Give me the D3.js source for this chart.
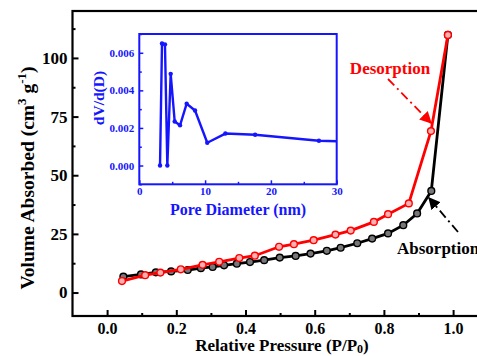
<!DOCTYPE html>
<html><head><meta charset="utf-8">
<script src="https://cdn.jsdelivr.net/npm/d3@7"></script>
<style>body{margin:0;background:#fff}svg{display:block}text{font-family:"Liberation Serif","Times New Roman",serif;font-weight:bold}</style>
</head><body>
<script>
// Main isotherm data
const absX = [0.047,0.098,0.141,0.185,0.233,0.271,0.305,0.338,0.375,0.413,0.454,0.499,0.545,0.588,0.635,0.675,0.723,0.766,0.812,0.856,0.896,0.937,0.985];
const absY = [6.8,7.7,8.6,9.0,9.6,10.4,10.9,11.6,12.3,13.0,13.8,14.9,15.6,16.6,17.8,19.1,21.0,23.0,25.2,28.7,33.7,43.3,109.8];
const desX = [0.043,0.11,0.154,0.213,0.276,0.324,0.382,0.427,0.497,0.54,0.597,0.66,0.704,0.771,0.812,0.872,0.936,0.985];
const desY = [4.9,7.4,8.5,9.9,11.8,13.1,14.7,15.7,19.5,20.6,22.3,24.7,26.4,30.1,33.4,38.0,68.8,109.8];
const xTicks = [0.0,0.2,0.4,0.6,0.8,1.0];
const yTicks = [0,25,50,75,100];
// Inset pore size distribution
const poreX = [3.15,3.45,3.9,4.26,4.77,5.38,6.19,7.2,8.47,10.33,13.08,17.6,27.3,33];
const poreY = [0,0.0065,0.00645,0,0.00488,0.00234,0.00214,0.00329,0.00293,0.00121,0.0017,0.00164,0.00132,0.00126];
const insetXTicks = [0,10,20,30];
const insetYTicks = [0,0.002,0.004,0.006];

const W=477,H=356;
const svg=d3.select("body").append("svg").attr("width",W).attr("height",H);
const x=d3.scaleLinear().domain([-0.1,1.1]).range([72.5,487.7]);
const y=d3.scaleLinear().domain([-10,120]).range([316,11]);

// frame
svg.append("rect").attr("x",x(-0.1)).attr("y",y(120)).attr("width",x(1.1)-x(-0.1)).attr("height",y(-10)-y(120))
  .attr("fill","none").attr("stroke","#000").attr("stroke-width",2.2);

// x axis ticks
const gx=svg.append("g").attr("transform",`translate(0,${y(-10)})`);
gx.call(d3.axisBottom(x).tickValues(xTicks).tickFormat(d3.format(".1f")).tickSizeInner(-6).tickSizeOuter(0));
gx.append("g").call(d3.axisBottom(x).tickValues([0.1,0.3,0.5,0.7,0.9]).tickFormat("").tickSizeInner(-3).tickSizeOuter(0));
gx.selectAll(".domain").remove();
gx.selectAll("line").attr("stroke","#000").attr("stroke-width",2);
gx.selectAll("text").attr("font-size",16).attr("fill","#000").attr("dy","0.95em");
// y axis
const gy=svg.append("g").attr("transform",`translate(${x(-0.1)},0)`);
gy.call(d3.axisLeft(y).tickValues(yTicks).tickSizeInner(-6).tickSizeOuter(0));
gy.append("g").call(d3.axisLeft(y).tickValues([12.5,37.5,62.5,87.5,112.5]).tickFormat("").tickSizeInner(-3).tickSizeOuter(0));
gy.selectAll(".domain").remove();
gy.selectAll("line").attr("stroke","#000").attr("stroke-width",2);
gy.selectAll("text").attr("font-size",17).attr("fill","#000").attr("x",-5);

// labels
const xl=svg.append("text").attr("x",282).attr("y",351).attr("text-anchor","middle").attr("font-size",17);
xl.append("tspan").text("Relative Pressure (P/P");
xl.append("tspan").text("0").attr("font-size",12).attr("dy",2);
xl.append("tspan").text(")").attr("dy",-2);
const yl=svg.append("text").attr("transform","translate(34,178) rotate(-90)").attr("text-anchor","middle").attr("font-size",19.5);
yl.append("tspan").text("Volume Absorbed (cm");
yl.append("tspan").text("3").attr("font-size",13).attr("dy",-8);
yl.append("tspan").text(" g").attr("dy",8);
yl.append("tspan").text("-1").attr("font-size",13).attr("dy",-8);
yl.append("tspan").text(")").attr("dy",8);

// curves
const line=d3.line().x(d=>x(d[0])).y(d=>y(d[1]));
const absD=absX.map((v,i)=>[v,absY[i]]);
const desD=desX.map((v,i)=>[v,desY[i]]);
svg.append("path").datum(absD).attr("d",line).attr("fill","none").attr("stroke","#000").attr("stroke-width",2.8);
svg.selectAll(".ma").data(absD).enter().append("circle").attr("cx",d=>x(d[0])).attr("cy",d=>y(d[1])).attr("r",3.4)
  .attr("fill","#777").attr("stroke","#000").attr("stroke-width",1.4);
svg.append("path").datum(desD).attr("d",line).attr("fill","none").attr("stroke","#ff0000").attr("stroke-width",2.8);
svg.selectAll(".md").data(desD).enter().append("circle").attr("cx",d=>x(d[0])).attr("cy",d=>y(d[1])).attr("r",3.4)
  .attr("fill","#ffb0b0").attr("stroke","#ff0000").attr("stroke-width",1.4);

// annotations
const defs=svg.append("defs");
[["ar","#ff0000"],["ab","#000"]].forEach(([id,c])=>{
  defs.append("marker").attr("id",id).attr("viewBox","0 0 10 10").attr("refX",9).attr("refY",5)
   .attr("markerWidth",12).attr("markerHeight",12).attr("orient","auto").attr("markerUnits","userSpaceOnUse")
   .append("path").attr("d","M0,0 L10,5 L0,10 Z").attr("fill",c);
});
svg.append("text").attr("x",390).attr("y",74).attr("text-anchor","middle").attr("font-size",17).attr("fill","#ff0000").text("Desorption");
svg.append("line").attr("x1",388).attr("y1",79).attr("x2",431).attr("y2",123).attr("stroke","#ff0000").attr("stroke-width",1.8)
  .attr("stroke-dasharray","9,4,2,4").attr("marker-end","url(#ar)");
svg.append("text").attr("x",397).attr("y",254).attr("font-size",17).attr("fill","#000").text("Absorption");
svg.append("line").attr("x1",458).attr("y1",232).attr("x2",429).attr("y2",198).attr("stroke","#000").attr("stroke-width",1.8)
  .attr("stroke-dasharray","9,4,2,4").attr("marker-end","url(#ab)");

// inset
const blue="#1515ff";
const ix=d3.scaleLinear().domain([0,30]).range([139.3,336.7]);
const iy=d3.scaleLinear().domain([-0.001,0.007]).range([184.3,34]);
defs.append("clipPath").attr("id","ic").append("rect").attr("x",ix(0)).attr("y",iy(0.007)).attr("width",ix(30)-ix(0)).attr("height",iy(-0.001)-iy(0.007));
const ig=svg.append("g");
const igx=ig.append("g").attr("transform",`translate(0,${iy(-0.001)})`);
igx.call(d3.axisBottom(ix).tickValues(insetXTicks).tickSizeInner(-4).tickSizeOuter(0));
igx.append("g").call(d3.axisBottom(ix).tickValues([5,15,25]).tickFormat("").tickSizeInner(-2.5).tickSizeOuter(0));
const igy=ig.append("g").attr("transform",`translate(${ix(0)},0)`);
igy.call(d3.axisLeft(iy).tickValues(insetYTicks).tickFormat(d3.format(".3f")).tickSizeInner(-4).tickSizeOuter(0));
igy.append("g").call(d3.axisLeft(iy).tickValues([-0.001,0.001,0.003,0.005,0.007]).tickFormat("").tickSizeInner(-2.5).tickSizeOuter(0));
ig.selectAll(".domain").remove();
ig.selectAll("line").attr("stroke",blue).attr("stroke-width",1.5);
ig.selectAll("text").attr("font-size",11).attr("fill",blue);
igy.selectAll("text").attr("x",-5);
ig.append("rect").attr("x",ix(0)).attr("y",iy(0.007)).attr("width",ix(30)-ix(0)).attr("height",iy(-0.001)-iy(0.007))
  .attr("fill","none").attr("stroke",blue).attr("stroke-width",2);
const pD=poreX.map((v,i)=>[v,poreY[i]]);
const il=d3.line().x(d=>ix(d[0])).y(d=>iy(d[1]));
const pg=ig.append("g").attr("clip-path","url(#ic)");
pg.append("path").datum(pD).attr("d",il).attr("fill","none").attr("stroke",blue).attr("stroke-width",2.4).attr("stroke-linejoin","round");
pg.selectAll("circle").data(pD).enter().append("circle").attr("cx",d=>ix(d[0])).attr("cy",d=>iy(d[1])).attr("r",2.2).attr("fill",blue);
ig.append("text").attr("x",238).attr("y",215).attr("text-anchor","middle").attr("font-size",16).attr("fill",blue).text("Pore Diameter (nm)");
ig.append("text").attr("transform","translate(104,98) rotate(-90)").attr("text-anchor","middle").attr("font-size",15.5).attr("fill",blue).text("dV/d(D)");
</script>
</body></html>
